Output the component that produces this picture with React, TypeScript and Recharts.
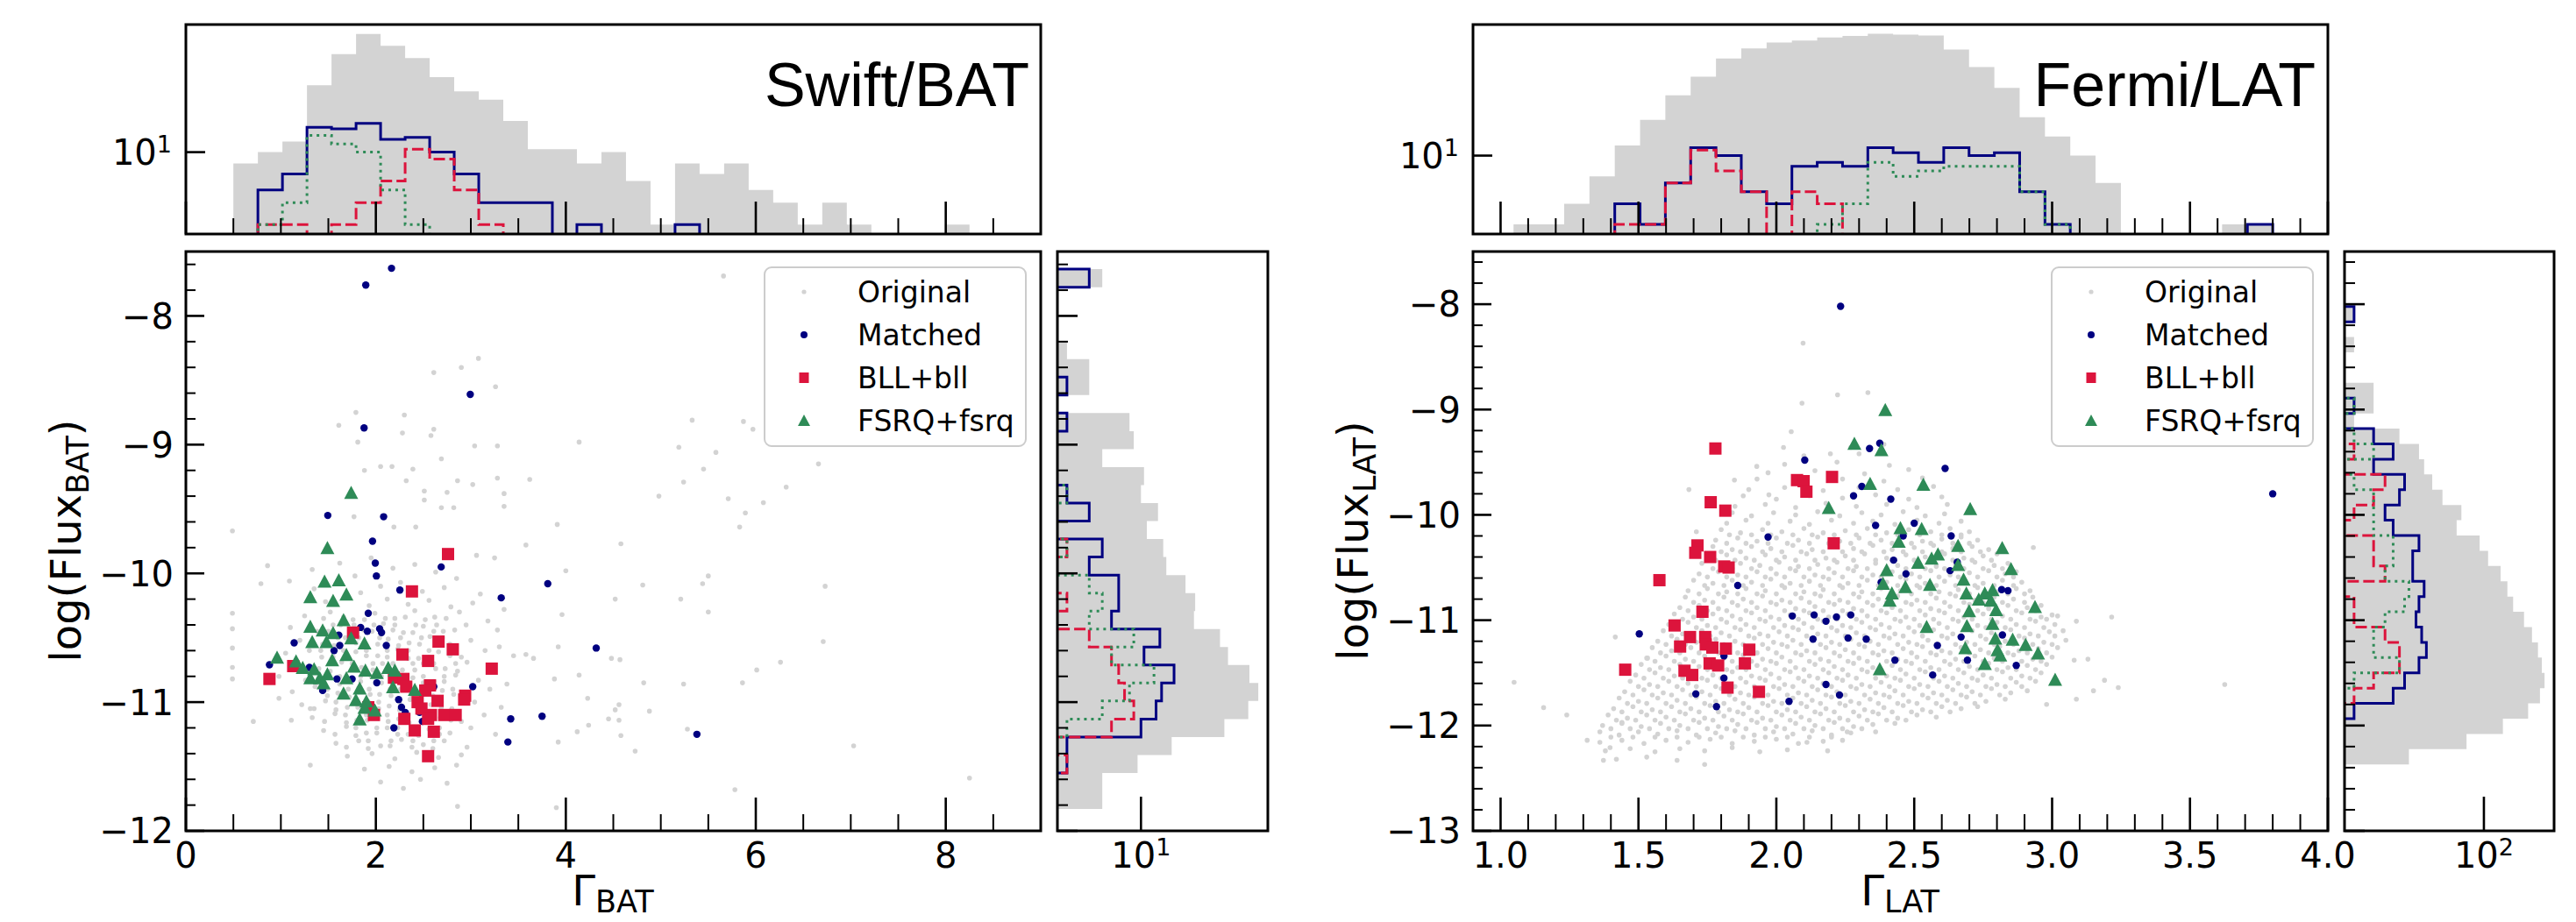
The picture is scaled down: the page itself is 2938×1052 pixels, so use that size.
import React from 'react'
import { ScatterChart, Scatter, ComposedChart, Area, Line, XAxis, YAxis } from 'recharts'

const FONT = '"DejaVu Sans", sans-serif'
const TITLE_FONT = '"Liberation Sans", Arial, sans-serif'
const GRAY = '#d3d3d3'
const NAVY = '#000080'
const CRIMSON = '#dc143c'
const SEAGREEN = '#2e8b57'

// ---------------- Swift/BAT ----------------
const batGammaTicks = [0, 2, 4, 6, 8]
const batGammaMinor = [0.5, 1, 1.5, 2.5, 3, 3.5, 4.5, 5, 5.5, 6.5, 7, 7.5, 8.5]
const batFluxTicks = [-12, -11, -10, -9, -8]
const batFluxMinor = [-11.8, -11.6, -11.4, -11.2, -10.8, -10.6, -10.4, -10.2, -9.8, -9.6, -9.4, -9.2, -8.8, -8.6, -8.4, -8.2, -7.8, -7.6]

const batOriginal = [
  [5.66,-7.69],[3.08,-8.33],[2.61,-8.44],[2.9,-8.4],[3.26,-8.55],[1.79,-8.75],[2.3,-8.77],[1.61,-8.85],[2.61,-8.88],[2.28,-8.91],
  [2.58,-8.93],[1.81,-8.98],[3.04,-9.01],[3.28,-9.01],[4.14,-8.98],[5.33,-8.81],[5.87,-8.82],[5.97,-8.88],[5.19,-9.02],[5.58,-9.06],
  [5.45,-9.19],[6.66,-9.15],[5.24,-9.29],[6.32,-9.33],[4.98,-9.4],[5.71,-9.42],[6.08,-9.45],[5.89,-9.53],[5.83,-9.64],[2.69,-9.11],
  [2.05,-9.17],[2.17,-9.17],[1.88,-9.2],[2.39,-9.19],[3.28,-9.26],[2.86,-9.28],[3.62,-9.27],[2.32,-9.28],[3.02,-9.31],[2.51,-9.36],
  [2.75,-9.37],[3.35,-9.38],[2.51,-9.43],[2.69,-9.49],[2.82,-9.49],[3.35,-9.48],[3.91,-9.62],[0.49,-9.67],[1.77,-9.56],[2.19,-9.64],
  [2.42,-9.64],[4.58,-9.77],[3.58,-9.78],[3.06,-9.86],[3.25,-9.88],[4.0,-9.98],[0.86,-9.94],[0.79,-10.08],[1.09,-10.06],[1.33,-9.97],
  [4.81,-10.09],[5.44,-10.08],[5.5,-10.02],[6.73,-10.1],[4.52,-10.2],[5.21,-10.2],[5.5,-10.3],[3.96,-10.32],[0.49,-10.31],[0.49,-10.43],
  [0.49,-10.58],[0.49,-10.73],[0.49,-10.82],[6.71,-10.53],[3.92,-10.57],[6.26,-10.69],[6.01,-10.75],[5.86,-10.85],[5.24,-10.86],[4.82,-10.85],
  [4.48,-10.66],[4.57,-10.67],[3.58,-10.63],[3.66,-10.66],[3.88,-10.82],[4.14,-10.79],[4.23,-10.97],[4.56,-11.02],[4.52,-11.06],[4.88,-11.07],
  [4.56,-11.14],[4.45,-11.13],[4.24,-11.18],[4.12,-11.23],[4.58,-11.26],[4.73,-11.38],[3.92,-11.31],[5.28,-11.21],[7.03,-11.34],[8.25,-11.59],
  [5.78,-11.68],[3.9,-11.82],[2.86,-11.81],[2.29,-11.67],[1.31,-11.49],[0.71,-11.15],[1.11,-11.14],[0.98,-10.97],[1.31,-11.05],
  [1.62,-9.92],[1.95,-9.88],[2.18,-9.96],[2.41,-9.93],[2.63,-9.99],[1.78,-10.02],[2.85,-10.04],
  [1.35,-10.12],[1.58,-10.08],[1.84,-10.15],[2.05,-10.1],[2.26,-10.07],[2.49,-10.14],[2.72,-10.11],[3.1,-10.16],
  [1.47,-10.22],[1.7,-10.19],[1.93,-10.25],[2.12,-10.2],[2.34,-10.24],[2.56,-10.21],[2.79,-10.26],[3.02,-10.23],[3.35,-10.28],
  [1.25,-10.33],[1.52,-10.3],[1.76,-10.36],[1.99,-10.31],[2.2,-10.35],[2.41,-10.29],[2.62,-10.34],[2.88,-10.3],[3.18,-10.37],
  [1.1,-10.42],[1.38,-10.45],[1.63,-10.4],[1.87,-10.44],[2.08,-10.39],[2.29,-10.46],[2.5,-10.41],[2.71,-10.45],[2.95,-10.4],[3.28,-10.44],
  [1.2,-10.52],[1.44,-10.55],[1.68,-10.5],[1.9,-10.56],[2.13,-10.51],[2.35,-10.54],[2.57,-10.49],[2.78,-10.55],[3.0,-10.52],[3.3,-10.57],
  [1.05,-10.62],[1.3,-10.6],[1.55,-10.65],[1.79,-10.61],[2.02,-10.64],[2.23,-10.59],[2.45,-10.66],[2.66,-10.61],[2.9,-10.65],[3.15,-10.6],[3.45,-10.64],
  [1.15,-10.71],[1.4,-10.74],[1.64,-10.69],[1.85,-10.73],[2.07,-10.7],[2.28,-10.75],[2.5,-10.7],[2.73,-10.74],[2.96,-10.69],[3.22,-10.73],
  [0.98,-10.8],[1.26,-10.83],[1.5,-10.79],[1.73,-10.84],[1.95,-10.8],[2.17,-10.85],[2.39,-10.81],[2.61,-10.84],[2.84,-10.79],[3.08,-10.83],[3.38,-10.86],
  [1.12,-10.92],[1.36,-10.88],[1.6,-10.93],[1.82,-10.89],[2.04,-10.94],[2.26,-10.9],[2.48,-10.95],[2.7,-10.91],[2.93,-10.94],[3.2,-10.9],
  [1.22,-11.02],[1.47,-10.99],[1.7,-11.04],[1.92,-11.0],[2.14,-11.03],[2.36,-10.98],[2.58,-11.02],[2.8,-11.05],[3.04,-11.0],[3.32,-11.04],
  [1.33,-11.12],[1.57,-11.09],[1.8,-11.14],[2.02,-11.1],[2.24,-11.13],[2.46,-11.08],[2.68,-11.12],[2.9,-11.15],[3.14,-11.1],
  [1.45,-11.22],[1.69,-11.19],[1.9,-11.24],[2.12,-11.2],[2.34,-11.25],[2.56,-11.21],[2.78,-11.24],[3.0,-11.2],[3.26,-11.25],
  [1.58,-11.32],[1.82,-11.3],[2.05,-11.34],[2.27,-11.29],[2.5,-11.33],[2.72,-11.3],[2.96,-11.35],
  [1.7,-11.42],[1.96,-11.4],[2.2,-11.44],[2.43,-11.39],[2.66,-11.43],[2.9,-11.41],
  [1.88,-11.52],[2.14,-11.5],[2.38,-11.54],[2.62,-11.51],[2.85,-11.49],[2.05,-11.62],[2.47,-11.6],[2.75,-11.63],
  [1.45,-10.35],[1.66,-10.34],[1.88,-10.36],[2.1,-10.35],[2.31,-10.34],[2.52,-10.36],[2.74,-10.35],
  [1.5,-10.45],[1.73,-10.46],[1.96,-10.45],[2.18,-10.44],[2.39,-10.46],[2.61,-10.45],[2.83,-10.44],
  [1.32,-10.55],[1.56,-10.56],[1.79,-10.54],[2.02,-10.55],[2.24,-10.56],[2.46,-10.55],[2.68,-10.54],
  [1.43,-10.65],[1.67,-10.66],[1.9,-10.64],[2.12,-10.65],[2.34,-10.66],[2.56,-10.65],[2.78,-10.64],
  [1.28,-10.75],[1.52,-10.76],[1.76,-10.74],[1.97,-10.75],[2.19,-10.76],[2.41,-10.75],[2.63,-10.74],[2.86,-10.76],
  [1.38,-10.85],[1.62,-10.86],[1.84,-10.84],[2.06,-10.85],[2.28,-10.86],[2.5,-10.85],[2.72,-10.84],
  [1.49,-10.95],[1.72,-10.96],[1.94,-10.94],[2.16,-10.95],[2.38,-10.96],[2.6,-10.95],[2.82,-10.94],
  [1.35,-11.05],[1.58,-11.06],[1.81,-11.04],[2.03,-11.05],[2.25,-11.06],[2.47,-11.05],[2.69,-11.04],
  [1.46,-11.15],[1.69,-11.16],[1.91,-11.14],[2.13,-11.15],[2.35,-11.16],[2.57,-11.15],[2.79,-11.14],
  [1.57,-11.25],[1.79,-11.26],[2.01,-11.24],[2.23,-11.25],[2.45,-11.26],[2.67,-11.25],
  [1.69,-11.35],[1.92,-11.36],[2.15,-11.34],[2.38,-11.35],[2.6,-11.36],
]
// densest part of the BAT cloud, one row per flux level: [flux, gamma, gamma, ...]
const batOriginalCore = [
  [-10.4, 1.55, 1.77, 1.98, 2.2, 2.42, 2.64],
  [-10.5, 1.6, 1.82, 2.04, 2.26, 2.48, 2.7],
  [-10.6, 1.42, 1.66, 1.9, 2.12, 2.34, 2.56, 2.78],
  [-10.7, 1.53, 1.75, 1.97, 2.18, 2.39, 2.61, 2.84],
  [-10.8, 1.62, 1.84, 2.06, 2.28, 2.5, 2.72],
  [-10.9, 1.49, 1.71, 1.93, 2.15, 2.37, 2.59, 2.81],
  [-11.0, 1.58, 1.81, 2.03, 2.25, 2.47, 2.69],
  [-11.1, 1.68, 1.9, 2.12, 2.34, 2.56, 2.78],
  [-11.2, 1.79, 2.01, 2.23, 2.45, 2.67],
  [-11.3, 1.92, 2.16, 2.39, 2.61],
]
const batMatched = [
  [2.165,-7.63],[1.894,-7.76],[2.994,-8.61],[1.876,-8.87],[1.494,-9.55],[2.082,-9.56],[1.965,-9.75],[1.994,-9.92],[2.006,-10.02],[2.688,-9.95],
  [2.253,-10.13],[3.81,-10.08],[3.32,-10.19],[1.92,-10.31],[2.04,-10.43],[2.06,-10.46],[1.91,-10.45],[1.84,-10.42],[1.61,-10.48],[1.14,-10.54],
  [2.11,-10.56],[1.62,-10.56],[1.56,-10.6],[4.32,-10.58],[0.88,-10.71],[1.3,-10.73],[1.59,-10.82],[1.75,-10.82],[2.01,-10.85],[3.02,-10.88],
  [1.44,-10.91],[2.24,-10.98],[2.27,-11.04],[2.31,-11.08],[2.49,-11.15],[2.61,-10.88],[2.46,-11.08],[2.19,-11.2],[3.42,-11.13],[3.75,-11.11],
  [3.39,-11.31],[5.38,-11.25],
]
const batBll = [
  [2.76,-9.85],[2.38,-10.14],[1.76,-10.46],[2.66,-10.53],[2.81,-10.59],[2.28,-10.63],[2.55,-10.68],[3.22,-10.74],[1.13,-10.72],[0.88,-10.82],
  [2.19,-10.81],[2.29,-10.82],[2.32,-10.88],[2.57,-10.87],[2.52,-10.91],[2.94,-10.95],[2.93,-10.98],[2.65,-10.99],[2.44,-11.0],[2.48,-11.05],
  [2.58,-11.1],[2.72,-11.1],[2.84,-11.1],[2.3,-11.13],[2.55,-11.13],[2.41,-11.22],[2.61,-11.23],[1.98,-11.1],[1.92,-11.04],[2.55,-11.42],
]
const batFsrq = [
  [1.74,-9.37],[1.49,-9.8],[1.46,-10.06],[1.61,-10.05],[1.31,-10.18],[1.55,-10.21],[1.69,-10.16],[1.66,-10.36],[1.31,-10.41],[1.44,-10.44],
  [1.55,-10.46],[1.74,-10.5],[1.88,-10.54],[1.33,-10.53],[1.48,-10.53],[1.69,-10.63],[0.96,-10.65],[1.16,-10.68],[1.23,-10.73],[1.35,-10.74],
  [1.54,-10.67],[1.77,-10.72],[1.89,-10.75],[2.01,-10.77],[2.13,-10.73],[2.2,-10.75],[1.31,-10.81],[1.41,-10.81],[1.49,-10.78],[1.69,-10.81],
  [1.45,-10.85],[2.18,-10.88],[2.41,-10.9],[1.83,-10.89],[1.66,-10.93],[1.79,-10.98],[1.9,-10.99],[1.99,-11.06],[1.83,-11.13],[1.88,-11.04],
]

// histograms: 30 bins between the sample min and max
const batGammaRange = [0.5, 8.25]
const batGammaOrig = [7,10,14,84,227,429,295,200,109,69,53,27,11,11,7,10,4,1,7,5,7,3,2,1,2,1,0,0,0,1]
const batGammaMatch = [0,3,5,22,21,25,15,16,10,5,2,2,2,0,1,0,0,0,1,0,0,0,0,0,0,0,0,0,0,0]
const batGammaBll = [0,1,1,0,1,2,4,11,8,3,1,0,0,0,0,0,0,0,0,0,0,0,0,0,0,0,0,0,0,0]
const batGammaFsrq = [0,1,2,17,13,10,3,1,0,0,0,0,0,0,0,0,0,0,0,0,0,0,0,0,0,0,0,0,0,0]

const batFluxRange = [-11.83, -7.637]
const batFluxOrig = [3,3,9,26,134,282,385,292,150,117,52,54,40,22,20,12,17,10,11,3,8,7,0,2,2,1,0,0,0,3]
const batFluxMatch = [0,0,1,1,10,16,19,28,11,18,4,5,5,2,3,0,2,1,0,0,0,1,0,1,0,0,0,0,0,2]
const batFluxBll = [0,0,1,0,4,8,6,5,4,2,0,1,0,0,1,0,0,0,0,0,0,0,0,0,0,0,0,0,0,0]
const batFluxFsrq = [0,0,0,0,1,3,7,15,4,8,2,3,2,0,1,0,0,1,0,0,0,0,0,0,0,0,0,0,0,0]

// ---------------- Fermi/LAT ----------------
const latGammaTicks = [1.0, 1.5, 2.0, 2.5, 3.0, 3.5, 4.0]
const latGammaMinor = [1.1,1.2,1.3,1.4,1.6,1.7,1.8,1.9,2.1,2.2,2.3,2.4,2.6,2.7,2.8,2.9,3.1,3.2,3.3,3.4,3.6,3.7,3.8,3.9]
const latFluxTicks = [-13, -12, -11, -10, -9, -8]
const latFluxMinor = [-12.8,-12.6,-12.4,-12.2,-11.8,-11.6,-11.4,-11.2,-10.8,-10.6,-10.4,-10.2,-9.8,-9.6,-9.4,-9.2,-8.8,-8.6,-8.4,-8.2,-7.8,-7.6]

const latOriginal = [
  [2.097,-8.37],[2.222,-8.86],[2.332,-8.84],[2.093,-8.94],[2.054,-9.21],[2.026,-9.36],[2.196,-9.42],[1.929,-9.54],[1.848,-9.67],[1.683,-9.76],
  [1.973,-9.81],[1.71,-10.16],[2.932,-10.31],[3.02,-10.96],[3.088,-11.01],[3.216,-10.97],[3.08,-11.38],[3.13,-11.37],[3.19,-11.57],[3.24,-11.64],
  [3.15,-11.67],[3.088,-11.75],[2.98,-11.8],[3.626,-11.61],[1.049,-11.59],[1.156,-11.83],[1.24,-11.9],[1.314,-12.14],[1.373,-12.33],[1.397,-12.21],
  [1.44,-11.97],[1.416,-11.16],[1.533,-11.36],[1.74,-12.37],[2.186,-12.24],[2.111,-12.16],[2.257,-12.06],
  [2.27,-9.36],[2.39,-9.33],[2.1,-9.44],[2.3,-9.42],[2.03,-9.52],[2.22,-9.5],[2.41,-9.53],
  [1.97,-9.6],[2.14,-9.58],[2.32,-9.61],[2.48,-9.57],[1.93,-9.66],[2.08,-9.69],[2.24,-9.66],[2.39,-9.68],[2.53,-9.65],
  [1.9,-9.76],[2.03,-9.74],[2.17,-9.77],[2.3,-9.74],[2.44,-9.76],[2.57,-9.73],
  [1.88,-9.82],[2.0,-9.85],[2.12,-9.82],[2.24,-9.84],[2.36,-9.81],[2.48,-9.85],[2.6,-9.83],
  [1.85,-9.92],[1.96,-9.9],[2.07,-9.93],[2.18,-9.89],[2.29,-9.92],[2.4,-9.9],[2.51,-9.93],[2.62,-9.9],
  [1.84,-9.98],[1.91,-10.01],[1.99,-9.98],[2.07,-10.0],[2.15,-9.97],[2.23,-10.01],[2.31,-9.98],[2.38,-10.0],[2.46,-9.97],[2.54,-10.01],[2.61,-9.99],
  [1.82,-10.08],[1.89,-10.05],[1.97,-10.08],[2.05,-10.06],[2.12,-10.09],[2.2,-10.05],[2.28,-10.08],[2.35,-10.06],[2.43,-10.09],[2.51,-10.05],[2.59,-10.08],[2.67,-10.06],
  [1.8,-10.14],[1.87,-10.17],[1.95,-10.14],[2.02,-10.16],[2.1,-10.13],[2.17,-10.17],[2.25,-10.15],[2.33,-10.13],[2.4,-10.17],[2.48,-10.14],[2.56,-10.16],[2.63,-10.13],[2.7,-10.16],
  [1.78,-10.24],[1.86,-10.22],[1.93,-10.25],[2.0,-10.22],[2.08,-10.24],[2.15,-10.21],[2.23,-10.25],[2.3,-10.22],[2.38,-10.24],[2.45,-10.21],[2.53,-10.25],[2.6,-10.23],[2.67,-10.21],[2.73,-10.24],
  [1.77,-10.3],[1.84,-10.33],[1.91,-10.3],[1.98,-10.32],[2.06,-10.29],[2.13,-10.33],[2.2,-10.3],[2.28,-10.32],[2.35,-10.29],[2.42,-10.33],[2.5,-10.31],[2.57,-10.29],[2.64,-10.32],[2.71,-10.3],[2.77,-10.33],
  [1.75,-10.4],[1.82,-10.38],[1.89,-10.41],[1.96,-10.38],[2.03,-10.4],[2.11,-10.37],[2.18,-10.41],[2.25,-10.39],[2.32,-10.37],[2.4,-10.41],[2.47,-10.38],[2.54,-10.4],[2.61,-10.37],[2.68,-10.41],[2.75,-10.39],[2.8,-10.37],
  [1.73,-10.46],[1.8,-10.49],[1.87,-10.46],[1.94,-10.48],[2.01,-10.45],[2.08,-10.49],[2.15,-10.47],[2.22,-10.45],[2.29,-10.49],[2.36,-10.46],[2.44,-10.48],[2.51,-10.45],[2.58,-10.49],[2.65,-10.47],[2.72,-10.45],[2.79,-10.48],[2.84,-10.46],
  [1.72,-10.56],[1.79,-10.54],[1.86,-10.57],[1.93,-10.54],[2.0,-10.56],[2.07,-10.53],[2.14,-10.57],[2.21,-10.55],[2.28,-10.53],[2.35,-10.57],[2.42,-10.54],[2.49,-10.56],[2.56,-10.53],[2.63,-10.57],[2.7,-10.55],[2.77,-10.53],[2.83,-10.56],[2.87,-10.54],
  [1.7,-10.62],[1.77,-10.65],[1.84,-10.62],[1.91,-10.64],[1.98,-10.61],[2.05,-10.65],[2.12,-10.63],[2.19,-10.61],[2.26,-10.65],[2.33,-10.62],[2.4,-10.64],[2.47,-10.61],[2.54,-10.65],[2.61,-10.63],[2.68,-10.61],[2.75,-10.65],[2.82,-10.62],[2.89,-10.64],
  [1.68,-10.72],[1.75,-10.7],[1.82,-10.73],[1.89,-10.7],[1.96,-10.72],[2.03,-10.69],[2.1,-10.73],[2.17,-10.71],[2.24,-10.69],[2.31,-10.73],[2.38,-10.7],[2.45,-10.72],[2.52,-10.69],[2.59,-10.73],[2.66,-10.71],[2.73,-10.69],[2.8,-10.73],[2.87,-10.7],[2.92,-10.72],
  [1.67,-10.78],[1.74,-10.81],[1.81,-10.78],[1.88,-10.8],[1.95,-10.77],[2.02,-10.81],[2.09,-10.79],[2.16,-10.77],[2.23,-10.81],[2.3,-10.78],[2.37,-10.8],[2.44,-10.77],[2.51,-10.81],[2.58,-10.79],[2.65,-10.77],[2.72,-10.81],[2.79,-10.78],[2.86,-10.8],[2.93,-10.78],
  [1.65,-10.88],[1.72,-10.86],[1.79,-10.89],[1.86,-10.86],[1.93,-10.88],[2.0,-10.85],[2.07,-10.89],[2.14,-10.87],[2.21,-10.85],[2.28,-10.89],[2.35,-10.86],[2.42,-10.88],[2.49,-10.85],[2.56,-10.89],[2.63,-10.87],[2.7,-10.85],[2.77,-10.89],[2.84,-10.86],[2.91,-10.88],[2.96,-10.86],
  [1.63,-10.94],[1.7,-10.97],[1.77,-10.94],[1.84,-10.96],[1.91,-10.93],[1.98,-10.97],[2.05,-10.95],[2.12,-10.93],[2.19,-10.97],[2.26,-10.94],[2.33,-10.96],[2.4,-10.93],[2.47,-10.97],[2.54,-10.95],[2.61,-10.93],[2.68,-10.97],[2.75,-10.94],[2.82,-10.96],[2.89,-10.93],[2.96,-10.97],[3.0,-10.95],
  [1.61,-11.04],[1.68,-11.02],[1.75,-11.05],[1.82,-11.02],[1.89,-11.04],[1.96,-11.01],[2.03,-11.05],[2.1,-11.03],[2.17,-11.01],[2.24,-11.05],[2.31,-11.02],[2.38,-11.04],[2.45,-11.01],[2.52,-11.05],[2.59,-11.03],[2.66,-11.01],[2.73,-11.05],[2.8,-11.02],[2.87,-11.04],[2.94,-11.01],[3.01,-11.04],
  [1.59,-11.1],[1.66,-11.13],[1.73,-11.1],[1.8,-11.12],[1.87,-11.09],[1.94,-11.13],[2.01,-11.11],[2.08,-11.09],[2.15,-11.13],[2.22,-11.1],[2.29,-11.12],[2.36,-11.09],[2.43,-11.13],[2.5,-11.11],[2.57,-11.09],[2.64,-11.13],[2.71,-11.1],[2.78,-11.12],[2.85,-11.09],[2.92,-11.13],[2.99,-11.11],[3.04,-11.1],
  [1.57,-11.2],[1.64,-11.18],[1.71,-11.21],[1.78,-11.18],[1.85,-11.2],[1.92,-11.17],[1.99,-11.21],[2.06,-11.19],[2.13,-11.17],[2.2,-11.21],[2.27,-11.18],[2.34,-11.2],[2.41,-11.17],[2.48,-11.21],[2.55,-11.19],[2.62,-11.17],[2.69,-11.21],[2.76,-11.18],[2.83,-11.2],[2.9,-11.17],[2.97,-11.21],[3.05,-11.19],
  [1.55,-11.26],[1.62,-11.29],[1.69,-11.26],[1.76,-11.28],[1.83,-11.25],[1.9,-11.29],[1.97,-11.27],[2.04,-11.25],[2.11,-11.29],[2.18,-11.26],[2.25,-11.28],[2.32,-11.25],[2.39,-11.29],[2.46,-11.27],[2.53,-11.25],[2.6,-11.29],[2.67,-11.26],[2.74,-11.28],[2.81,-11.25],[2.88,-11.29],[2.95,-11.27],[3.02,-11.26],
  [1.53,-11.36],[1.6,-11.34],[1.67,-11.37],[1.74,-11.34],[1.81,-11.36],[1.88,-11.33],[1.95,-11.37],[2.02,-11.35],[2.09,-11.33],[2.16,-11.37],[2.23,-11.34],[2.3,-11.36],[2.37,-11.33],[2.44,-11.37],[2.51,-11.35],[2.58,-11.33],[2.65,-11.37],[2.72,-11.34],[2.79,-11.36],[2.86,-11.33],[2.93,-11.37],[3.0,-11.35],
  [1.51,-11.42],[1.58,-11.45],[1.65,-11.42],[1.72,-11.44],[1.79,-11.41],[1.86,-11.45],[1.93,-11.43],[2.0,-11.41],[2.07,-11.45],[2.14,-11.42],[2.21,-11.44],[2.28,-11.41],[2.35,-11.45],[2.42,-11.43],[2.49,-11.41],[2.56,-11.45],[2.63,-11.42],[2.7,-11.44],[2.77,-11.41],[2.84,-11.45],[2.91,-11.43],[2.98,-11.42],
  [1.49,-11.52],[1.56,-11.5],[1.63,-11.53],[1.7,-11.5],[1.77,-11.52],[1.84,-11.49],[1.91,-11.53],[1.98,-11.51],[2.05,-11.49],[2.12,-11.53],[2.19,-11.5],[2.26,-11.52],[2.33,-11.49],[2.4,-11.53],[2.47,-11.51],[2.54,-11.49],[2.61,-11.53],[2.68,-11.5],[2.75,-11.52],[2.82,-11.49],[2.89,-11.53],[2.96,-11.5],
  [1.47,-11.58],[1.54,-11.61],[1.61,-11.58],[1.68,-11.6],[1.75,-11.57],[1.82,-11.61],[1.89,-11.59],[1.96,-11.57],[2.03,-11.61],[2.1,-11.58],[2.17,-11.6],[2.24,-11.57],[2.31,-11.61],[2.38,-11.59],[2.45,-11.57],[2.52,-11.61],[2.59,-11.58],[2.66,-11.6],[2.73,-11.57],[2.8,-11.61],[2.87,-11.59],[2.94,-11.58],
  [1.45,-11.68],[1.52,-11.66],[1.59,-11.69],[1.66,-11.66],[1.73,-11.68],[1.8,-11.65],[1.87,-11.69],[1.94,-11.67],[2.01,-11.65],[2.08,-11.69],[2.15,-11.66],[2.22,-11.68],[2.29,-11.65],[2.36,-11.69],[2.43,-11.67],[2.5,-11.65],[2.57,-11.69],[2.64,-11.66],[2.71,-11.68],[2.78,-11.65],[2.85,-11.69],[2.91,-11.67],
  [1.43,-11.74],[1.5,-11.77],[1.57,-11.74],[1.64,-11.76],[1.71,-11.73],[1.78,-11.77],[1.85,-11.75],[1.92,-11.73],[1.99,-11.77],[2.06,-11.74],[2.13,-11.76],[2.2,-11.73],[2.27,-11.77],[2.34,-11.75],[2.41,-11.73],[2.48,-11.77],[2.55,-11.74],[2.62,-11.76],[2.69,-11.73],[2.76,-11.77],[2.83,-11.75],
  [1.41,-11.84],[1.48,-11.82],[1.55,-11.85],[1.62,-11.82],[1.69,-11.84],[1.76,-11.81],[1.83,-11.85],[1.9,-11.83],[1.97,-11.81],[2.04,-11.85],[2.11,-11.82],[2.18,-11.84],[2.25,-11.81],[2.32,-11.85],[2.39,-11.83],[2.46,-11.81],[2.53,-11.85],[2.6,-11.82],[2.67,-11.84],[2.73,-11.82],
  [1.39,-11.9],[1.46,-11.93],[1.53,-11.9],[1.6,-11.92],[1.67,-11.89],[1.74,-11.93],[1.81,-11.91],[1.88,-11.89],[1.95,-11.93],[2.02,-11.9],[2.09,-11.92],[2.16,-11.89],[2.23,-11.93],[2.3,-11.91],[2.37,-11.89],[2.44,-11.93],[2.51,-11.9],[2.58,-11.92],
  [1.37,-12.0],[1.44,-11.98],[1.51,-12.01],[1.58,-11.98],[1.65,-12.0],[1.72,-11.97],[1.79,-12.01],[1.86,-11.99],[1.93,-11.97],[2.0,-12.01],[2.07,-11.98],[2.14,-12.0],[2.21,-11.97],[2.28,-12.01],[2.35,-11.99],[2.43,-11.98],
  [1.36,-12.06],[1.43,-12.09],[1.5,-12.06],[1.57,-12.08],[1.64,-12.05],[1.71,-12.09],[1.78,-12.07],[1.85,-12.05],[1.92,-12.09],[1.99,-12.06],[2.06,-12.08],[2.13,-12.05],[2.2,-12.09],[2.27,-12.07],[2.36,-12.06],
  [1.36,-12.16],[1.44,-12.14],[1.52,-12.17],[1.6,-12.14],[1.68,-12.16],[1.76,-12.13],[1.84,-12.17],[1.92,-12.15],[2.0,-12.13],[2.08,-12.17],[2.17,-12.15],[2.24,-12.14],
  [1.38,-12.24],[1.47,-12.22],[1.56,-12.25],[1.65,-12.22],[1.74,-12.24],[1.84,-12.21],[1.94,-12.25],[2.04,-12.23],
  [1.42,-12.32],[1.53,-12.3],[1.64,-12.33],
]
// densest part of the LAT cloud, one row per flux level: [flux, gamma, gamma, ...]
const latOriginalCore = [
  [-10.19, 1.83,1.91,1.98,2.06,2.13,2.21,2.29,2.36,2.44,2.52,2.6,2.67],
  [-10.27, 1.82,1.89,1.97,2.04,2.12,2.19,2.27,2.34,2.42,2.49,2.56,2.64,2.7],
  [-10.35, 1.8,1.87,1.95,2.02,2.09,2.17,2.24,2.31,2.39,2.46,2.53,2.6,2.67,2.74],
  [-10.43, 1.78,1.85,1.92,2.0,2.07,2.14,2.21,2.28,2.36,2.43,2.5,2.57,2.64,2.71,2.78],
  [-10.51, 1.77,1.84,1.91,1.98,2.05,2.12,2.19,2.26,2.33,2.4,2.47,2.54,2.61,2.68,2.75,2.82],
  [-10.59, 1.75,1.82,1.89,1.96,2.03,2.1,2.17,2.24,2.31,2.38,2.45,2.52,2.59,2.66,2.73,2.8,2.86],
  [-10.67, 1.74,1.81,1.88,1.95,2.02,2.09,2.16,2.23,2.3,2.37,2.44,2.51,2.58,2.65,2.72,2.79,2.86],
  [-10.75, 1.72,1.79,1.86,1.93,2.0,2.07,2.14,2.21,2.28,2.35,2.42,2.49,2.56,2.63,2.7,2.77,2.84,2.9],
  [-10.83, 1.7,1.77,1.84,1.91,1.98,2.05,2.12,2.19,2.26,2.33,2.4,2.47,2.54,2.61,2.68,2.75,2.82,2.9],
  [-10.91, 1.68,1.75,1.82,1.89,1.96,2.03,2.1,2.17,2.24,2.31,2.38,2.45,2.52,2.59,2.66,2.73,2.8,2.87,2.94],
  [-10.99, 1.66,1.73,1.8,1.87,1.94,2.01,2.08,2.15,2.22,2.29,2.36,2.43,2.5,2.57,2.64,2.71,2.78,2.85,2.92,2.98],
  [-11.07, 1.64,1.71,1.78,1.85,1.92,1.99,2.06,2.13,2.2,2.27,2.34,2.41,2.48,2.55,2.62,2.69,2.76,2.83,2.9,2.97],
  [-11.15, 1.62,1.69,1.76,1.83,1.9,1.97,2.04,2.11,2.18,2.25,2.32,2.39,2.46,2.53,2.6,2.67,2.74,2.81,2.88,2.95,3.01],
  [-11.23, 1.6,1.67,1.74,1.81,1.88,1.95,2.02,2.09,2.16,2.23,2.3,2.37,2.44,2.51,2.58,2.65,2.72,2.79,2.86,2.93,3.0],
  [-11.31, 1.58,1.65,1.72,1.79,1.86,1.93,2.0,2.07,2.14,2.21,2.28,2.35,2.42,2.49,2.56,2.63,2.7,2.77,2.84,2.91,2.98],
  [-11.39, 1.56,1.63,1.7,1.77,1.84,1.91,1.98,2.05,2.12,2.19,2.26,2.33,2.4,2.47,2.54,2.61,2.68,2.75,2.82,2.89,2.96],
  [-11.47, 1.54,1.61,1.68,1.75,1.82,1.89,1.96,2.03,2.1,2.17,2.24,2.31,2.38,2.45,2.52,2.59,2.66,2.73,2.8,2.87,2.94],
  [-11.55, 1.52,1.59,1.66,1.73,1.8,1.87,1.94,2.01,2.08,2.15,2.22,2.29,2.36,2.43,2.5,2.57,2.64,2.71,2.78,2.85,2.92],
  [-11.63, 1.5,1.57,1.64,1.71,1.78,1.85,1.92,1.99,2.06,2.13,2.2,2.27,2.34,2.41,2.48,2.55,2.62,2.69,2.76,2.83,2.89],
  [-11.71, 1.48,1.55,1.62,1.69,1.76,1.83,1.9,1.97,2.04,2.11,2.18,2.25,2.32,2.39,2.46,2.53,2.6,2.67,2.74,2.81],
  [-11.79, 1.46,1.53,1.6,1.67,1.74,1.81,1.88,1.95,2.02,2.09,2.16,2.23,2.3,2.37,2.44,2.51,2.58,2.65,2.72],
  [-11.87, 1.44,1.51,1.58,1.65,1.72,1.79,1.86,1.93,2.0,2.07,2.14,2.21,2.28,2.35,2.42,2.49,2.56,2.63],
  [-11.95, 1.42,1.49,1.56,1.63,1.7,1.77,1.84,1.91,1.98,2.05,2.12,2.19,2.26,2.33,2.4,2.47],
  [-12.03, 1.4,1.47,1.54,1.61,1.68,1.75,1.82,1.89,1.96,2.03,2.1,2.17,2.24,2.31],
  [-12.11, 1.4,1.48,1.56,1.64,1.72,1.8,1.88,1.96,2.04,2.12,2.2],
]
const latMatched = [
  [2.233,-8.02],[2.103,-9.48],[2.338,-9.37],[2.375,-9.32],[2.31,-9.73],[2.28,-9.82],[2.415,-9.85],[2.612,-9.56],[2.36,-10.1],[2.5,-10.08],
  [2.634,-10.2],[2.46,-10.2],[1.97,-10.21],[2.425,-10.43],[2.47,-10.56],[2.63,-10.53],[2.656,-10.45],[1.86,-10.67],[2.38,-10.64],[2.817,-10.71],
  [2.84,-10.72],[2.058,-10.96],[2.137,-10.95],[2.18,-11.01],[2.218,-10.97],[2.27,-10.95],[1.503,-11.13],[2.133,-11.18],[2.26,-11.17],[2.326,-11.18],
  [2.584,-11.24],[2.67,-11.16],[2.82,-11.14],[2.693,-11.38],[2.43,-11.38],[2.87,-11.43],[1.81,-11.34],[1.81,-11.55],[2.567,-11.52],[2.18,-11.61],
  [2.229,-11.71],[1.708,-11.7],[1.783,-11.82],[2.046,-11.77],[3.8,-9.8],
]
const latBll = [
  [1.779,-9.37],[2.075,-9.67],[2.099,-9.68],[2.109,-9.78],[2.202,-9.64],[1.762,-9.88],[1.815,-9.96],[2.208,-10.27],[1.714,-10.29],[1.706,-10.36],
  [1.76,-10.4],[1.811,-10.49],[1.827,-10.5],[1.576,-10.62],[1.732,-10.92],[1.631,-11.05],[1.687,-11.16],[1.742,-11.16],[1.744,-11.23],[1.651,-11.25],
  [1.768,-11.26],[1.817,-11.27],[1.902,-11.28],[1.758,-11.41],[1.789,-11.43],[1.886,-11.41],[1.667,-11.48],[1.695,-11.52],[1.452,-11.47],[1.823,-11.64],
  [1.937,-11.68],
]
const latFsrq = [
  [2.395,-9.0],[2.283,-9.32],[2.381,-9.38],[2.34,-9.7],[2.533,-9.71],[2.19,-9.93],[2.703,-9.94],[2.45,-10.12],[2.527,-10.13],[2.444,-10.25],
  [2.659,-10.29],[2.819,-10.31],[2.514,-10.45],[2.563,-10.41],[2.586,-10.37],[2.659,-10.47],[2.851,-10.51],[2.4,-10.52],[2.679,-10.61],[2.387,-10.65],
  [2.468,-10.68],[2.557,-10.66],[2.689,-10.74],[2.734,-10.8],[2.756,-10.74],[2.784,-10.71],[2.419,-10.74],[2.411,-10.81],[2.778,-10.81],[2.699,-10.91],
  [2.797,-10.9],[2.938,-10.87],[2.545,-11.06],[2.691,-11.05],[2.784,-11.03],[2.794,-11.17],[2.857,-11.18],[2.904,-11.23],[2.685,-11.26],[2.802,-11.28],
  [2.812,-11.33],[2.949,-11.31],[2.756,-11.41],[2.375,-11.46],[3.011,-11.56],
]

const latGammaRange = [1.047, 3.8]
const latGammaOrig = [1,1,2,5,14,33,75,140,257,360,440,470,519,545,589,572,555,348,193,96,36,19,10,4,0,0,0,0,1,1]
const latGammaMatch = [0,0,0,0,2,1,4,13,10,3,2,7,8,7,13,11,8,13,10,11,3,1,0,0,0,0,0,0,0,1]
const latGammaBll = [0,0,0,0,1,1,4,12,6,3,0,3,2,0,0,0,0,0,0,0,0,0,0,0,0,0,0,0,0,0]
const latGammaFsrq = [0,0,0,0,0,0,0,0,0,0,0,0,1,2,8,5,6,7,7,7,3,1,0,0,0,0,0,0,0,0]

const latFluxRange = [-12.37, -8.022]
const latFluxOrig = [7,54,196,480,730,859,780,680,550,415,282,230,181,116,86,38,45,23,16,12,10,5,1,2,2,0,0,1,0,1]
const latFluxMatch = [0,0,0,1,4,6,10,13,11,9,10,12,8,8,10,4,3,5,6,2,4,2,0,1,0,0,0,0,0,1]
const latFluxBll = [0,0,0,0,1,2,5,5,3,1,1,0,3,2,2,0,1,2,3,0,1,0,0,0,0,0,0,0,0,0]
const latFluxFsrq = [0,0,0,0,0,1,5,2,2,3,6,7,3,4,4,2,2,2,1,0,2,1,0,1,0,0,0,0,0,0]

// ---------------- helpers ----------------
const FLOOR = 0.05 // empty bins sit below the log axis and get clipped
const pos = (c: number) => (c > 0 ? c : FLOOR)
const pts = (a: number[][]) => a.map(([x, y]) => ({ x, y }))
const rowPts = (rows: number[][]) => rows.flatMap((r) => r.slice(1).map((x) => ({ x, y: r[0] })))

function histRows(key: string, range: number[], orig: number[], match: number[], bll: number[], fsrq: number[]) {
  const w = (range[1] - range[0]) / orig.length
  const rows: Record<string, number>[] = [{ [key]: range[0], orig: FLOOR, match: FLOOR, bll: FLOOR, fsrq: FLOOR }]
  orig.forEach((_, i) => {
    rows.push({ [key]: range[0] + i * w, orig: pos(orig[i]), match: pos(match[i]), bll: pos(bll[i]), fsrq: pos(fsrq[i]) })
  })
  rows.push({ [key]: range[1], orig: FLOOR, match: FLOOR, bll: FLOOR, fsrq: FLOOR })
  return rows
}

const minus = (v: number) => (v < 0 ? '\u2212' + Math.abs(v) : String(v))
const fixed1 = (v: number) => v.toFixed(1)
const pow10 = (v: number) => (
  <>10<tspan dy={-14} fontSize={27}>{Math.round(Math.log10(v))}</tspan></>
)

type TickCfg = {
  side: 'bottom' | 'left'
  major: number[]
  majorLen: number
  minorLen: number
  label?: (v: number) => React.ReactNode
  gap?: number
}
function makeTick(cfg: TickCfg) {
  return (p: any) => {
    const v = p.payload.value
    const isMajor = cfg.major.some((m) => Math.abs(m - v) < 1e-9)
    const len = isMajor ? cfg.majorLen : cfg.minorLen
    const sw = isMajor ? 2.6 : 2
    if (cfg.side === 'bottom') {
      return (
        <g>
          <line x1={p.x} x2={p.x} y1={p.y} y2={p.y - len} stroke="#000" strokeWidth={sw} />
          {isMajor && cfg.label && (
            <text x={p.x} y={p.y + (cfg.gap ?? 42)} textAnchor="middle" fontFamily={FONT} fontSize={40} fill="#000">
              {cfg.label(v)}
            </text>
          )}
        </g>
      )
    }
    return (
      <g>
        <line x1={p.x} x2={p.x + len} y1={p.y} y2={p.y} stroke="#000" strokeWidth={sw} />
        {isMajor && cfg.label && (
          <text x={p.x - (cfg.gap ?? 14)} y={p.y} dy="0.36em" textAnchor="end" fontFamily={FONT} fontSize={40} fill="#000">
            {cfg.label(v)}
          </text>
        )}
      </g>
    )
  }
}

type Rect = { x: number; y: number; w: number; h: number }
function place(r: Rect, L: number, T: number, W: number, H: number) {
  return {
    style: { position: 'absolute' as const, left: L, top: T },
    width: W,
    height: H,
    margin: { top: r.y - T, right: L + W - r.x - r.w, bottom: 0, left: 0 },
    yw: r.x - L,
    xh: T + H - r.y - r.h,
  }
}

const dot = (r: number, fill: string) => (p: any) => <circle cx={p.cx} cy={p.cy} r={r} fill={fill} />
const square = (s: number, fill: string) => (p: any) => <rect x={p.cx - s / 2} y={p.cy - s / 2} width={s} height={s} fill={fill} />
const tri = (w: number, h: number, fill: string) => (p: any) => (
  <polygon points={`${p.cx},${p.cy - h / 2} ${p.cx - w / 2},${p.cy + h / 2} ${p.cx + w / 2},${p.cy + h / 2}`} fill={fill} />
)

const R = {
  batTop: { x: 212, y: 28, w: 975, h: 239 },
  batMain: { x: 212, y: 287, w: 975, h: 661 },
  batSide: { x: 1206, y: 287, w: 240, h: 661 },
  latTop: { x: 1680, y: 28, w: 975, h: 239 },
  latMain: { x: 1680, y: 287, w: 975, h: 661 },
  latSide: { x: 2674, y: 287, w: 239, h: 661 },
}

function MainPanel(props: {
  rect: Rect; L: number; W: number; xDomain: number[]; yDomain: number[]
  xMajor: number[]; xMinor: number[]; yMajor: number[]; yMinor: number[]; xLabel: (v: number) => string
  orig: { x: number; y: number }[]; matched: number[][]; bll: number[][]; fsrq: number[][]
}) {
  const p = place(props.rect, props.L, 250, props.W, 802)
  return (
    <div style={p.style}>
      <ScatterChart width={p.width} height={p.height} margin={p.margin}>
        <XAxis type="number" dataKey="x" domain={props.xDomain} allowDataOverflow height={p.xh}
          ticks={[...props.xMajor, ...props.xMinor]} interval={0} tickSize={0} tickMargin={0} axisLine={false} tickLine={false}
          tick={makeTick({ side: 'bottom', major: props.xMajor, majorLen: 38, minorLen: 19, label: props.xLabel })} />
        <YAxis type="number" dataKey="y" domain={props.yDomain} allowDataOverflow width={p.yw}
          ticks={[...props.yMajor, ...props.yMinor]} interval={0} tickSize={0} tickMargin={0} axisLine={false} tickLine={false}
          tick={makeTick({ side: 'left', major: props.yMajor, majorLen: 21, minorLen: 11, label: minus })} />
        <Scatter name="Original" data={props.orig} shape={dot(2.8, GRAY)} isAnimationActive={false} />
        <Scatter name="Matched" data={pts(props.matched)} shape={dot(4.2, NAVY)} isAnimationActive={false} />
        <Scatter name="BLL+bll" data={pts(props.bll)} shape={square(14, CRIMSON)} isAnimationActive={false} />
        <Scatter name="FSRQ+fsrq" data={pts(props.fsrq)} shape={tri(16, 15, SEAGREEN)} isAnimationActive={false} />
      </ScatterChart>
    </div>
  )
}

function TopHist(props: {
  rect: Rect; L: number; W: number; xDomain: number[]; yDomain: number[]; xMajor: number[]; xMinor: number[]
  rows: Record<string, number>[]
}) {
  const p = place(props.rect, props.L, 0, props.W, 280)
  return (
    <div style={p.style}>
      <ComposedChart width={p.width} height={p.height} margin={p.margin} data={props.rows}>
        <XAxis type="number" dataKey="g" domain={props.xDomain} allowDataOverflow height={p.xh}
          ticks={[...props.xMajor, ...props.xMinor]} interval={0} tickSize={0} tickMargin={0} axisLine={false} tickLine={false}
          tick={makeTick({ side: 'bottom', major: props.xMajor, majorLen: 37, minorLen: 18 })} />
        <YAxis type="number" scale="log" domain={props.yDomain} allowDataOverflow width={p.yw}
          ticks={[10]} interval={0} tickSize={0} tickMargin={0} axisLine={false} tickLine={false}
          tick={makeTick({ side: 'left', major: [10], majorLen: 22, minorLen: 11, label: pow10, gap: 16 })} />
        <Area type="stepAfter" dataKey="orig" fill={GRAY} fillOpacity={1} stroke="none" isAnimationActive={false} />
        <Line type="stepAfter" dataKey="match" stroke={NAVY} strokeWidth={3} dot={false} isAnimationActive={false} />
        <Line type="stepAfter" dataKey="bll" stroke={CRIMSON} strokeWidth={3} strokeDasharray="13 5" dot={false} isAnimationActive={false} />
        <Line type="stepAfter" dataKey="fsrq" stroke={SEAGREEN} strokeWidth={3} strokeDasharray="3 5" dot={false} isAnimationActive={false} />
      </ComposedChart>
    </div>
  )
}

function SideHist(props: {
  rect: Rect; L: number; W: number; xDomain: number[]; xTick: number; yDomain: number[]; yMajor: number[]; yMinor: number[]
  rows: Record<string, number>[]
}) {
  const p = place(props.rect, props.L, 250, props.W, 802)
  return (
    <div style={p.style}>
      <ComposedChart layout="vertical" width={p.width} height={p.height} margin={p.margin} data={props.rows}>
        <XAxis type="number" scale="log" domain={props.xDomain} allowDataOverflow height={p.xh}
          ticks={[props.xTick]} interval={0} tickSize={0} tickMargin={0} axisLine={false} tickLine={false}
          tick={makeTick({ side: 'bottom', major: [props.xTick], majorLen: 39, minorLen: 19, label: pow10 })} />
        <YAxis type="number" dataKey="f" domain={props.yDomain} allowDataOverflow reversed width={p.yw}
          ticks={[...props.yMajor, ...props.yMinor]} interval={0} tickSize={0} tickMargin={0} axisLine={false} tickLine={false}
          tick={makeTick({ side: 'left', major: props.yMajor, majorLen: 23, minorLen: 12 })} />
        <Area type="stepBefore" dataKey="orig" fill={GRAY} fillOpacity={1} stroke="none" isAnimationActive={false} />
        <Line type="stepBefore" dataKey="match" stroke={NAVY} strokeWidth={3} dot={false} isAnimationActive={false} />
        <Line type="stepBefore" dataKey="bll" stroke={CRIMSON} strokeWidth={3} strokeDasharray="13 5" dot={false} isAnimationActive={false} />
        <Line type="stepBefore" dataKey="fsrq" stroke={SEAGREEN} strokeWidth={3} strokeDasharray="3 5" dot={false} isAnimationActive={false} />
      </ComposedChart>
    </div>
  )
}

function LegendBox({ x, y }: { x: number; y: number }) {
  const items = [
    { name: 'Original', m: <circle r={2.6} fill={GRAY} /> },
    { name: 'Matched', m: <circle r={4} fill={NAVY} /> },
    { name: 'BLL+bll', m: <rect x={-5.5} y={-6} width={11} height={12} fill={CRIMSON} /> },
    { name: 'FSRQ+fsrq', m: <polygon points="0,-7 -7,6 7,6" fill={SEAGREEN} /> },
  ]
  return (
    <svg style={{ position: 'absolute', left: x, top: y }} width={300} height={206}>
      <rect x={1} y={1} width={298} height={204} rx={8} fill="#fff" fillOpacity={0.8} stroke="#cccccc" strokeWidth={2} />
      {items.map((it, i) => (
        <g key={it.name} transform={`translate(0,${29 + i * 49})`}>
          <g transform="translate(46,0)">{it.m}</g>
          <text x={107} y={12} fontFamily={FONT} fontSize={33} fill="#000">{it.name}</text>
        </g>
      ))}
    </svg>
  )
}

export default function App() {
  const batTopRows = histRows('g', batGammaRange, batGammaOrig, batGammaMatch, batGammaBll, batGammaFsrq)
  const batSideRows = histRows('f', batFluxRange, batFluxOrig, batFluxMatch, batFluxBll, batFluxFsrq)
  const latTopRows = histRows('g', latGammaRange, latGammaOrig, latGammaMatch, latGammaBll, latGammaFsrq)
  const latSideRows = histRows('f', latFluxRange, latFluxOrig, latFluxMatch, latFluxBll, latFluxFsrq)
  const batOrigPts = [...pts(batOriginal), ...rowPts(batOriginalCore)]
  const latOrigPts = [...pts(latOriginal), ...rowPts(latOriginalCore)]
  const frames = Object.values(R)

  return (
    <div style={{ position: 'absolute', left: 0, top: 0, width: 2938, height: 1052, background: '#fff', overflow: 'hidden' }}>
      <TopHist rect={R.batTop} L={0} W={1240} xDomain={[0, 9]} yDomain={[0.739, 580]}
        xMajor={batGammaTicks} xMinor={batGammaMinor} rows={batTopRows} />
      <MainPanel rect={R.batMain} L={0} W={1240} xDomain={[0, 9]} yDomain={[-12, -7.5]}
        xMajor={batGammaTicks} xMinor={batGammaMinor} yMajor={batFluxTicks} yMinor={batFluxMinor} xLabel={minus}
        orig={batOrigPts} matched={batMatched} bll={batBll} fsrq={batFsrq} />
      <SideHist rect={R.batSide} L={1190} W={290} xDomain={[0.743, 518]} xTick={10} yDomain={[-12, -7.5]}
        yMajor={batFluxTicks} yMinor={batFluxMinor} rows={batSideRows} />

      <TopHist rect={R.latTop} L={1460} W={1250} xDomain={[0.9, 4.0]} yDomain={[0.727, 800]}
        xMajor={latGammaTicks} xMinor={latGammaMinor} rows={latTopRows} />
      <MainPanel rect={R.latMain} L={1460} W={1250} xDomain={[0.9, 4.0]} yDomain={[-13, -7.5]}
        xMajor={latGammaTicks} xMinor={latGammaMinor} yMajor={latFluxTicks} yMinor={latFluxMinor} xLabel={fixed1}
        orig={latOrigPts} matched={latMatched} bll={latBll} fsrq={latFsrq} />
      <SideHist rect={R.latSide} L={2658} W={280} xDomain={[0.713, 1205]} xTick={100} yDomain={[-13, -7.5]}
        yMajor={latFluxTicks} yMinor={latFluxMinor} rows={latSideRows} />

      <LegendBox x={871} y={304} />
      <LegendBox x={2339} y={304} />

      <svg style={{ position: 'absolute', left: 0, top: 0, pointerEvents: 'none' }} width={2938} height={1052}>
        {frames.map((r, i) => (
          <rect key={i} x={r.x} y={r.y} width={r.w} height={r.h} fill="none" stroke="#000" strokeWidth={3} />
        ))}
        <text x={1174} y={121} textAnchor="end" fontFamily={TITLE_FONT} fontSize={70} fill="#000">Swift/BAT</text>
        <text x={2641} y={121} textAnchor="end" fontFamily={TITLE_FONT} fontSize={70} fill="#000">Fermi/LAT</text>
        <text transform="translate(92,617) rotate(-90)" textAnchor="middle" fontFamily={FONT} fontSize={48} fill="#000">
          log(Flux<tspan fontSize={35} dy={9}>BAT</tspan><tspan dy={-9}>)</tspan>
        </text>
        <text transform="translate(1560,617) rotate(-90)" textAnchor="middle" fontFamily={FONT} fontSize={48} fill="#000">
          log(Flux<tspan fontSize={35} dy={9}>LAT</tspan><tspan dy={-9}>)</tspan>
        </text>
        <text x={699} y={1033} textAnchor="middle" fontFamily={FONT} fontSize={48} fill="#000">
          Γ<tspan fontSize={35} dy={8}>BAT</tspan>
        </text>
        <text x={2167} y={1033} textAnchor="middle" fontFamily={FONT} fontSize={48} fill="#000">
          Γ<tspan fontSize={35} dy={8}>LAT</tspan>
        </text>
      </svg>
    </div>
  )
}
